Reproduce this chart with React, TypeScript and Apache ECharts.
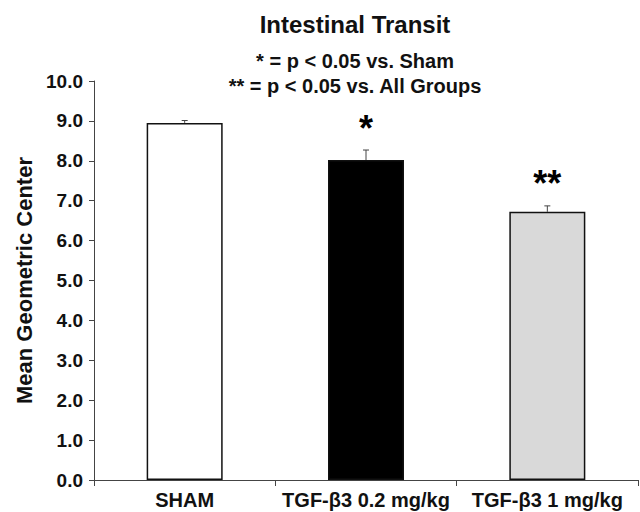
import React, { useEffect, useRef } from "react";
import * as echarts from "echarts";

const categories = ["SHAM", "TGF-β3 0.2 mg/kg", "TGF-β3 1 mg/kg"];
const means = [8.95, 8.02, 6.72];
const errors = [0.06, 0.25, 0.15];
const marks = ["", "*", "**"];
const colors = ["#ffffff", "#000000", "#d9d9d9"];
const yTicks = [0, 1, 2, 3, 4, 5, 6, 7, 8, 9, 10];

export default function App() {
  const ref = useRef<HTMLDivElement>(null);
  useEffect(() => {
    if (!ref.current) return;
    const chart = echarts.init(ref.current, null, { renderer: "svg" });
    const font = "Liberation Sans, Arial, sans-serif";
    chart.setOption({
      animation: false,
      backgroundColor: "#ffffff",
      title: [
        {
          text: "Intestinal Transit",
          left: 350,
          top: 7,
          textAlign: "center",
          textStyle: { fontFamily: font, fontWeight: "bold", fontSize: 24, color: "#111" },
        },
        {
          text: "* = p < 0.05 vs. Sham\n** = p < 0.05 vs. All Groups",
          left: 350,
          top: 43,
          textAlign: "center",
          textStyle: { fontFamily: font, fontWeight: "bold", fontSize: 20, color: "#111", lineHeight: 25 },
        },
      ],
      grid: { left: 94, right: 2, top: 81, bottom: 32, containLabel: false },
      xAxis: {
        type: "category",
        data: categories,
        axisLine: { lineStyle: { color: "#444", width: 1 } },
        axisTick: { show: true, alignWithLabel: false, length: 6, lineStyle: { color: "#444" } },
        axisLabel: { fontFamily: font, fontWeight: "bold", fontSize: 20, color: "#111", margin: 10, interval: 0 },
      },
      yAxis: {
        type: "value",
        min: 0,
        max: 10,
        interval: 1,
        name: "Mean Geometric Center",
        nameLocation: "middle",
        nameGap: 57,
        nameTextStyle: { fontFamily: font, fontWeight: "bold", fontSize: 22, color: "#111" },
        axisLine: { show: true, lineStyle: { color: "#444", width: 1 } },
        axisTick: { show: true, length: 5, lineStyle: { color: "#444" } },
        splitLine: { show: false },
        axisLabel: {
          fontFamily: font,
          fontWeight: "bold",
          fontSize: 19,
          color: "#111",
          margin: 11,
          formatter: (v: number) => (yTicks.includes(v) ? v.toFixed(1) : ""),
        },
      },
      series: [
        {
          type: "bar",
          barWidth: 76,
          data: means.map((v, i) => ({
            value: v,
            itemStyle: { color: colors[i], borderColor: "#111", borderWidth: 1.5 },
          })),
        },
        {
          type: "custom",
          renderItem: (params: any, api: any) => {
            const i = params.dataIndex;
            const x = api.coord([i, 0])[0];
            const y0 = api.coord([i, means[i]])[1];
            const y1 = api.coord([i, means[i] + errors[i]])[1];
            return {
              type: "group",
              children: [
                { type: "line", shape: { x1: x, y1: y0, x2: x, y2: y1 }, style: { stroke: "#444", lineWidth: 1 } },
                { type: "line", shape: { x1: x - 3, y1: y1, x2: x + 3, y2: y1 }, style: { stroke: "#444", lineWidth: 1 } },
                {
                  type: "text",
                  style: {
                    text: marks[i],
                    x: x,
                    y: y1 - 4,
                    align: "center",
                    verticalAlign: "bottom",
                    font: "bold 36px " + font,
                    fill: "#000",
                  },
                },
              ],
            };
          },
          data: means.map((v, i) => [i, v]),
          z: 5,
        },
      ],
    });
    return () => chart.dispose();
  }, []);
  return <div ref={ref} style={{ width: 640, height: 512, position: "absolute", left: 0, top: 0 }} />;
}
